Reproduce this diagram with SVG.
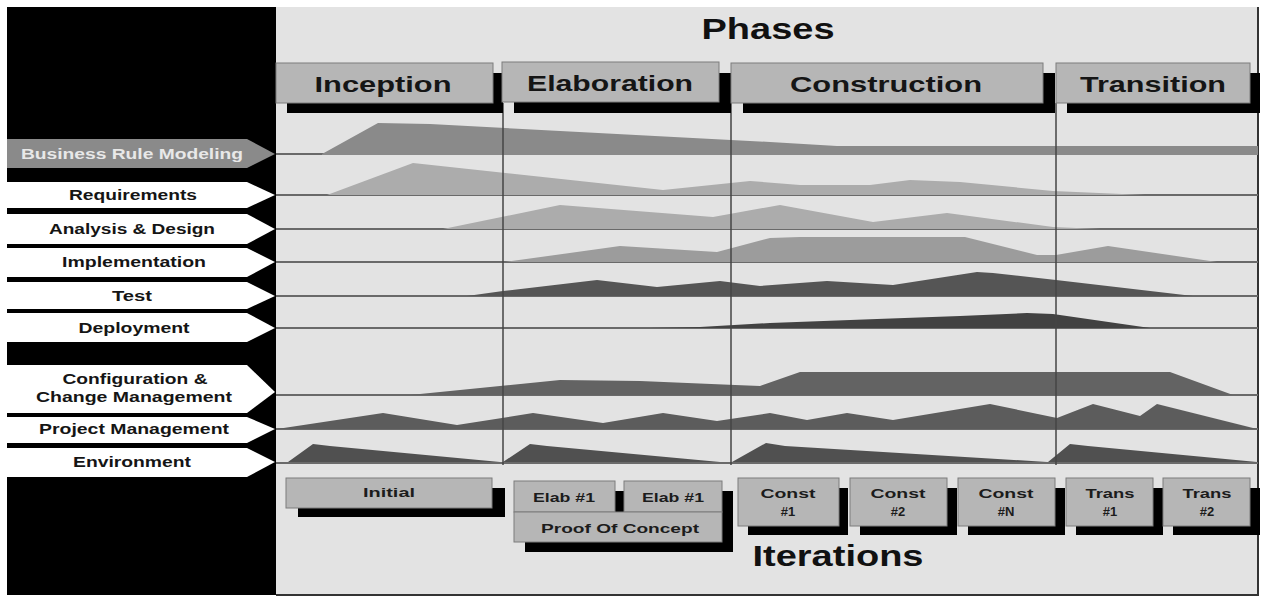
<svg xmlns="http://www.w3.org/2000/svg" width="1264" height="601" viewBox="0 0 1264 601">
<style>
  .lbl{font-family:"Liberation Sans",Arial,sans-serif;font-weight:bold;font-size:14px;fill:#151515;text-anchor:middle}
  .ph{font-family:"Liberation Sans",Arial,sans-serif;font-weight:bold;font-size:22px;fill:#151515;text-anchor:middle}
  .big{font-family:"Liberation Sans",Arial,sans-serif;font-weight:bold;font-size:30px;fill:#111;text-anchor:middle}
  .it{font-family:"Liberation Sans",Arial,sans-serif;font-weight:bold;font-size:13px;fill:#1c1c1c;text-anchor:middle}
  .box{fill:#b6b6b6;stroke:#7c7c7c;stroke-width:1}
  .sh{fill:#000}
  .arr{fill:#fff}
  .base{stroke:#6a6a6a;stroke-width:2;fill:none}
  .vl{stroke:#444;stroke-width:1.5;fill:none}
</style>
<rect x="0" y="0" width="1264" height="601" fill="#fff"/>
<rect x="7" y="7" width="269" height="588" fill="#000"/>
<rect x="276" y="7" width="982" height="588" fill="#e3e3e3"/>
<path d="M1258,7 V595 H276" fill="none" stroke="#333" stroke-width="2"/>

<text class="big" x="768" y="39" textLength="133" lengthAdjust="spacingAndGlyphs">Phases</text>

<g id="grid">
  <line class="base" x1="276" y1="154" x2="1258" y2="154"/>
  <line class="base" x1="276" y1="195" x2="1258" y2="195"/>
  <line class="base" x1="276" y1="229" x2="1258" y2="229"/>
  <line class="base" x1="276" y1="262" x2="1258" y2="262"/>
  <line class="base" x1="276" y1="296" x2="1258" y2="296"/>
  <line class="base" x1="276" y1="328" x2="1258" y2="328"/>
  <line class="base" x1="276" y1="395" x2="1258" y2="395"/>
  <line class="base" x1="276" y1="429" x2="1258" y2="429"/>
  <line class="base" x1="276" y1="463" x2="1258" y2="463"/>
</g>

<g id="humps">
  <polygon id="h-brm" fill="#8a8a8a" points="322,154 378,123 430,124 770,142 837,146 1258,146 1258,155 322,155"/>
  <polygon id="h-req" fill="#acacac" points="327,195 413,163 663,190 750,181 800,185 870,185 910,180 960,182 1053,191 1145,195"/>
  <polygon id="h-ad" fill="#acacac" points="443,229 560,205 713,217 780,205 873,222 947,213 1053,227 1100,229"/>
  <polygon id="h-impl" fill="#9c9c9c" points="505,262 620,246 717,252 770,238 800,237 965,237 1037,255 1056,255 1108,246 1217,262"/>
  <polygon id="h-test" fill="#555" points="467,296 503,291 597,280 657,287 720,281 760,286 827,281 893,285 977,272 993,273 1056,280 1193,296"/>
  <polygon id="h-dep" fill="#424242" points="650,328 700,327 770,323 877,319 960,316 1027,313 1053,314 1150,328"/>
  <polygon id="h-cfg" fill="#636363" points="410,395 560,380 640,381 735,385 760,386 800,372 1170,372 1233,395"/>
  <polygon id="h-pm" fill="#5c5c5c" points="277,429 383,413 457,425 533,413 603,423 663,413 717,421 770,413 807,420 847,413 893,420 990,404 1057,418 1093,404 1140,416 1157,404 1257,429"/>
  <polygon id="h-env1" fill="#505050" points="288,462 313,444 330,446 500,462"/>
  <polygon id="h-env2" fill="#505050" points="503,462 530,444 547,446 720,462"/>
  <polygon id="h-env3" fill="#505050" points="732,462 766,443 785,446 1047,462"/>
  <polygon id="h-env4" fill="#505050" points="1048,462 1070,444 1088,446 1257,462"/>
</g>

<g id="phase-lines">
  <line class="vl" x1="503" y1="103" x2="503" y2="465"/>
  <line class="vl" x1="731" y1="103" x2="731" y2="465"/>
  <line class="vl" x1="1056" y1="103" x2="1056" y2="465"/>
</g>

<g id="phase-inception">
  <rect class="sh" x="287" y="73" width="216" height="40"/>
  <rect class="box" x="276" y="63" width="217" height="40"/>
  <text class="ph" x="383" y="92" textLength="137" lengthAdjust="spacingAndGlyphs">Inception</text>
</g>
<g id="phase-elaboration">
  <rect class="sh" x="514" y="73" width="217" height="40"/>
  <rect class="box" x="502" y="62" width="217" height="40"/>
  <text class="ph" x="610" y="91" textLength="166" lengthAdjust="spacingAndGlyphs">Elaboration</text>
</g>
<g id="phase-construction">
  <rect class="sh" x="743" y="73" width="312" height="40"/>
  <rect class="box" x="731" y="63" width="312" height="40"/>
  <text class="ph" x="886" y="92" textLength="192" lengthAdjust="spacingAndGlyphs">Construction</text>
</g>
<g id="phase-transition">
  <rect class="sh" x="1067" y="73" width="193" height="40"/>
  <rect class="box" x="1056" y="63" width="194" height="40"/>
  <text class="ph" x="1153" y="92" textLength="146" lengthAdjust="spacingAndGlyphs">Transition</text>
</g>

<g id="wf-business-rule-modeling">
  <polygon fill="#8a8a8a" points="7,139 247,139 275,154 247,168 7,168"/>
  <text class="lbl" x="132" y="159" fill="#e8e8e8" style="fill:#e8e8e8" textLength="222" lengthAdjust="spacingAndGlyphs">Business Rule Modeling</text>
</g>
<g id="wf-requirements">
  <polygon class="arr" points="7,182 247,182 275,195 247,208 7,208"/>
  <text class="lbl" x="133" y="200" textLength="128" lengthAdjust="spacingAndGlyphs">Requirements</text>
</g>
<g id="wf-analysis-design">
  <polygon class="arr" points="7,214 247,214 275,229 247,244 7,244"/>
  <text class="lbl" x="132" y="234" textLength="166" lengthAdjust="spacingAndGlyphs">Analysis &amp; Design</text>
</g>
<g id="wf-implementation">
  <polygon class="arr" points="7,248 247,248 275,262 247,277 7,277"/>
  <text class="lbl" x="134" y="267" textLength="144" lengthAdjust="spacingAndGlyphs">Implementation</text>
</g>
<g id="wf-test">
  <polygon class="arr" points="7,282 247,282 275,296 247,309 7,309"/>
  <text class="lbl" x="132" y="301" textLength="40" lengthAdjust="spacingAndGlyphs">Test</text>
</g>
<g id="wf-deployment">
  <polygon class="arr" points="7,313 247,313 275,328 247,342 7,342"/>
  <text class="lbl" x="134" y="333" textLength="111" lengthAdjust="spacingAndGlyphs">Deployment</text>
</g>
<g id="wf-configuration">
  <polygon class="arr" points="7,365 247,365 275,392 247,413 7,413"/>
  <text class="lbl" x="135" y="384" textLength="145" lengthAdjust="spacingAndGlyphs">Configuration &amp;</text>
  <text class="lbl" x="134" y="402" textLength="196" lengthAdjust="spacingAndGlyphs">Change Management</text>
</g>
<g id="wf-project-management">
  <polygon class="arr" points="7,417 247,417 275,429 247,443 7,443"/>
  <text class="lbl" x="134" y="434" textLength="190" lengthAdjust="spacingAndGlyphs">Project Management</text>
</g>
<g id="wf-environment">
  <polygon class="arr" points="7,448 247,448 275,462 247,477 7,477"/>
  <text class="lbl" x="132" y="467" textLength="118" lengthAdjust="spacingAndGlyphs">Environment</text>
</g>

<g id="it-initial">
  <rect class="sh" x="298" y="488" width="207" height="29"/>
  <rect class="box" x="286" y="478" width="206" height="30"/>
  <text class="it" x="389" y="497" textLength="52" lengthAdjust="spacingAndGlyphs">Initial</text>
</g>
<g id="it-elab">
  <rect class="sh" x="525" y="491" width="101" height="31"/>
  <rect class="sh" x="635" y="491" width="98" height="31"/>
  <rect class="sh" x="525" y="522" width="208" height="30"/>
  <rect class="box" x="514" y="481" width="101" height="31"/>
  <rect class="box" x="624" y="481" width="98" height="31"/>
  <rect class="box" x="514" y="512" width="208" height="30"/>
  <text class="it" x="564" y="502" textLength="62" lengthAdjust="spacingAndGlyphs">Elab #1</text>
  <text class="it" x="673" y="502" textLength="62" lengthAdjust="spacingAndGlyphs">Elab #1</text>
  <text class="it" x="620" y="533" textLength="158" lengthAdjust="spacingAndGlyphs">Proof Of Concept</text>
</g>
<g id="it-const1">
  <rect class="sh" x="748" y="488" width="100" height="47"/>
  <rect class="box" x="738" y="478" width="101" height="48"/>
  <text class="it" x="788" y="498" textLength="55" lengthAdjust="spacingAndGlyphs">Const</text>
  <text class="it" x="788" y="516">#1</text>
</g>
<g id="it-const2">
  <rect class="sh" x="860" y="488" width="97" height="47"/>
  <rect class="box" x="850" y="478" width="97" height="48"/>
  <text class="it" x="898" y="498" textLength="55" lengthAdjust="spacingAndGlyphs">Const</text>
  <text class="it" x="898" y="516">#2</text>
</g>
<g id="it-constn">
  <rect class="sh" x="968" y="488" width="97" height="47"/>
  <rect class="box" x="958" y="478" width="97" height="48"/>
  <text class="it" x="1006" y="498" textLength="55" lengthAdjust="spacingAndGlyphs">Const</text>
  <text class="it" x="1006" y="516">#N</text>
</g>
<g id="it-trans1">
  <rect class="sh" x="1076" y="488" width="87" height="47"/>
  <rect class="box" x="1066" y="478" width="87" height="48"/>
  <text class="it" x="1110" y="498" textLength="49" lengthAdjust="spacingAndGlyphs">Trans</text>
  <text class="it" x="1110" y="516">#1</text>
</g>
<g id="it-trans2">
  <rect class="sh" x="1173" y="488" width="87" height="47"/>
  <rect class="box" x="1163" y="478" width="87" height="48"/>
  <text class="it" x="1207" y="498" textLength="49" lengthAdjust="spacingAndGlyphs">Trans</text>
  <text class="it" x="1207" y="516">#2</text>
</g>

<text class="big" x="838" y="566" textLength="171" lengthAdjust="spacingAndGlyphs">Iterations</text>
</svg>
